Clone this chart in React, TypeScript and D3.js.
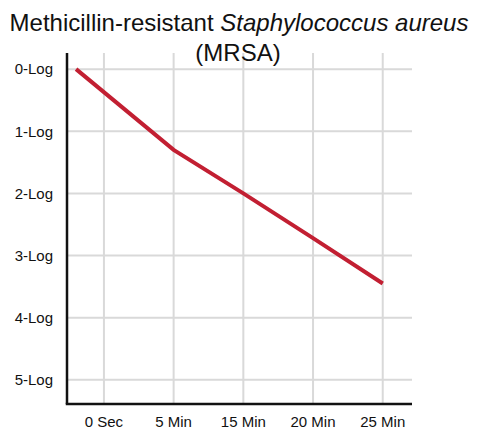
import * as d3 from 'd3';
import { useEffect, useRef } from 'react';

const width = 478;
const height = 430;

// tick labels
const timeLabels = ['0 Sec', '5 Min', '15 Min', '20 Min', '25 Min'];
const logLabels = ['0-Log', '1-Log', '2-Log', '3-Log', '4-Log', '5-Log'];

// the curve: position along the time axis (label index) and log reduction
const curvePos = [-0.4, 1, 2, 3, 4];
const curveLog = [0.0, 1.3, 2.0, 2.72, 3.45];

function App() {
    const ref = useRef<SVGSVGElement>(null);

    useEffect(() => {
        const svg = d3.select(ref.current);
        svg.selectAll('*').remove();

        const x = d3.scaleLinear().domain([-0.53, 4.42]).range([67, 412]);
        const y = d3.scaleLinear().domain([-0.26, 5.39]).range([53, 404]);

        const grid = svg.append('g');
        // horizontal grid lines
        grid.selectAll('line.h').data(logLabels).enter().append('line')
            .attr('x1', x(-0.53)).attr('x2', x(4.42))
            .attr('y1', (d, i) => y(i)).attr('y2', (d, i) => y(i))
            .attr('stroke', '#d9d9d9').attr('stroke-width', 2);
        // vertical grid lines
        grid.selectAll('line.v').data(timeLabels).enter().append('line')
            .attr('x1', (d, i) => x(i)).attr('x2', (d, i) => x(i))
            .attr('y1', y(-0.26)).attr('y2', y(5.39))
            .attr('stroke', '#d9d9d9').attr('stroke-width', 2);

        // axes
        svg.append('line')
            .attr('x1', x(-0.53)).attr('x2', x(-0.53))
            .attr('y1', y(-0.26)).attr('y2', y(5.39))
            .attr('stroke', '#111').attr('stroke-width', 2.5);
        svg.append('line')
            .attr('x1', x(-0.53) - 1.25).attr('x2', x(4.42))
            .attr('y1', y(5.39)).attr('y2', y(5.39))
            .attr('stroke', '#111').attr('stroke-width', 2.5);

        // tick labels
        svg.selectAll('text.ylab').data(logLabels).enter().append('text')
            .attr('x', 53).attr('y', (d, i) => y(i))
            .attr('dy', '0.35em')
            .attr('text-anchor', 'end')
            .style('font-family', 'Liberation Sans, Arial, sans-serif')
            .style('font-size', '15px')
            .attr('fill', '#111')
            .text(d => d);
        svg.selectAll('text.xlab').data(timeLabels).enter().append('text')
            .attr('x', (d, i) => x(i)).attr('y', 427)
            .attr('text-anchor', 'middle')
            .style('font-family', 'Liberation Sans, Arial, sans-serif')
            .style('font-size', '15px')
            .attr('fill', '#111')
            .text(d => d);

        // the curve
        const line = d3.line<number>()
            .x((d, i) => x(curvePos[i]))
            .y(d => y(d));
        svg.append('path')
            .datum(curveLog)
            .attr('d', line)
            .attr('fill', 'none')
            .attr('stroke', '#c21f32')
            .attr('stroke-width', 4);

        // title
        const title = svg.append('text')
            .attr('x', 239).attr('y', 31)
            .attr('text-anchor', 'middle')
            .style('font-family', 'Liberation Sans, Arial, sans-serif')
            .style('font-size', '24px')
            .attr('fill', '#111');
        title.append('tspan').text('Methicillin-resistant ');
        title.append('tspan').style('font-style', 'italic').text('Staphylococcus aureus');
        svg.append('text')
            .attr('x', 238).attr('y', 61)
            .attr('text-anchor', 'middle')
            .style('font-family', 'Liberation Sans, Arial, sans-serif')
            .style('font-size', '24px')
            .attr('fill', '#111')
            .text('(MRSA)');
    }, []);

    return <svg ref={ref} width={width} height={height}
        style={{ position: 'absolute', left: 0, top: 0, background: '#fff' }} />;
}

export default App;
